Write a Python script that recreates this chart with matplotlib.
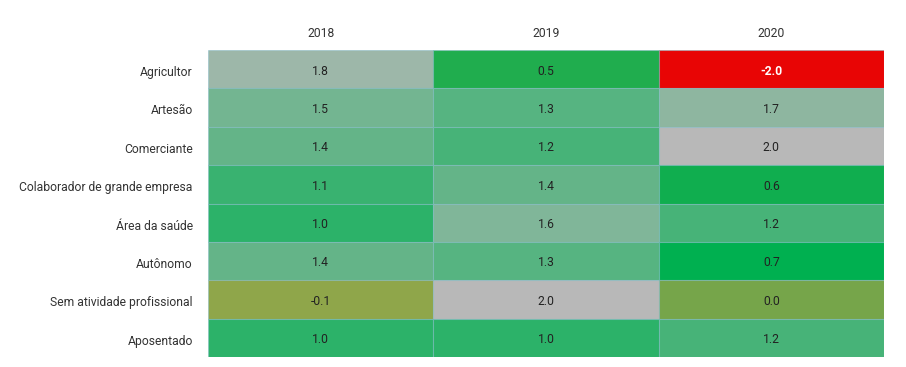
import numpy as np
import matplotlib
matplotlib.use("Agg")
import matplotlib.pyplot as plt
from matplotlib.colors import LinearSegmentedColormap, Normalize

plt.rcParams['font.family'] = ['Roboto', 'DejaVu Sans']

categories = ["Agricultor", "Artesão", "Comerciante", "Colaborador de grande empresa",
              "Área da saúde", "Autônomo", "Sem atividade profissional", "Aposentado"]
years = ["2018", "2019", "2020"]
v2018 = [1.8, 1.5, 1.4, 1.1, 1.0, 1.4, -0.1, 1.0]
v2019 = [0.5, 1.3, 1.2, 1.4, 1.6, 1.3, 2.0, 1.0]
v2020 = [-2.0, 1.7, 2.0, 0.6, 1.2, 0.7, 0.0, 1.2]

data = np.array([v2018, v2019, v2020]).T

vmin, vmax = -2.0, 2.0
stops = [(-2.0, "#e80505"), (-0.1, "#8fa64a"), (0.0, "#77a54a"), (0.7, "#00b050"), (2.0, "#b8b8b8")]
cmap = LinearSegmentedColormap.from_list(
    "custom", [((s - vmin) / (vmax - vmin), c) for s, c in stops])
norm = Normalize(vmin=vmin, vmax=vmax)

fig = plt.figure(figsize=(9.06, 3.67), dpi=100)
ax = fig.add_axes([208 / 906, 10 / 367, 676 / 906, 307 / 367])

nrows, ncols = data.shape
for i in range(nrows):
    for j in range(ncols):
        v = data[i, j]
        ax.add_patch(plt.Rectangle((j, i), 1, 1, facecolor=cmap(norm(v)),
                                   edgecolor=(0.5, 0.72, 0.78, 0.45), linewidth=0.8))
        if v <= -1.5:
            ax.text(j + 0.5, i + 0.55, f"{v:.1f}", ha="center", va="center",
                    fontsize=8.7, color="white", fontweight="bold")
        else:
            ax.text(j + 0.5, i + 0.55, f"{v:.1f}", ha="center", va="center",
                    fontsize=8.7, color="#222222")

ax.set_xlim(0, ncols)
ax.set_ylim(nrows, 0)
ax.xaxis.tick_top()
ax.set_xticks(np.arange(ncols) + 0.5)
ax.set_xticklabels(years, fontsize=8.7, color="#333333")
ax.set_yticks(np.arange(nrows) + 0.55)
ax.set_yticklabels(categories, fontsize=8.7, color="#333333")
ax.tick_params(axis="x", length=0, pad=7)
ax.tick_params(axis="y", length=0, pad=11)
for s in ax.spines.values():
    s.set_visible(False)

fig.savefig("out.png", dpi=100)
